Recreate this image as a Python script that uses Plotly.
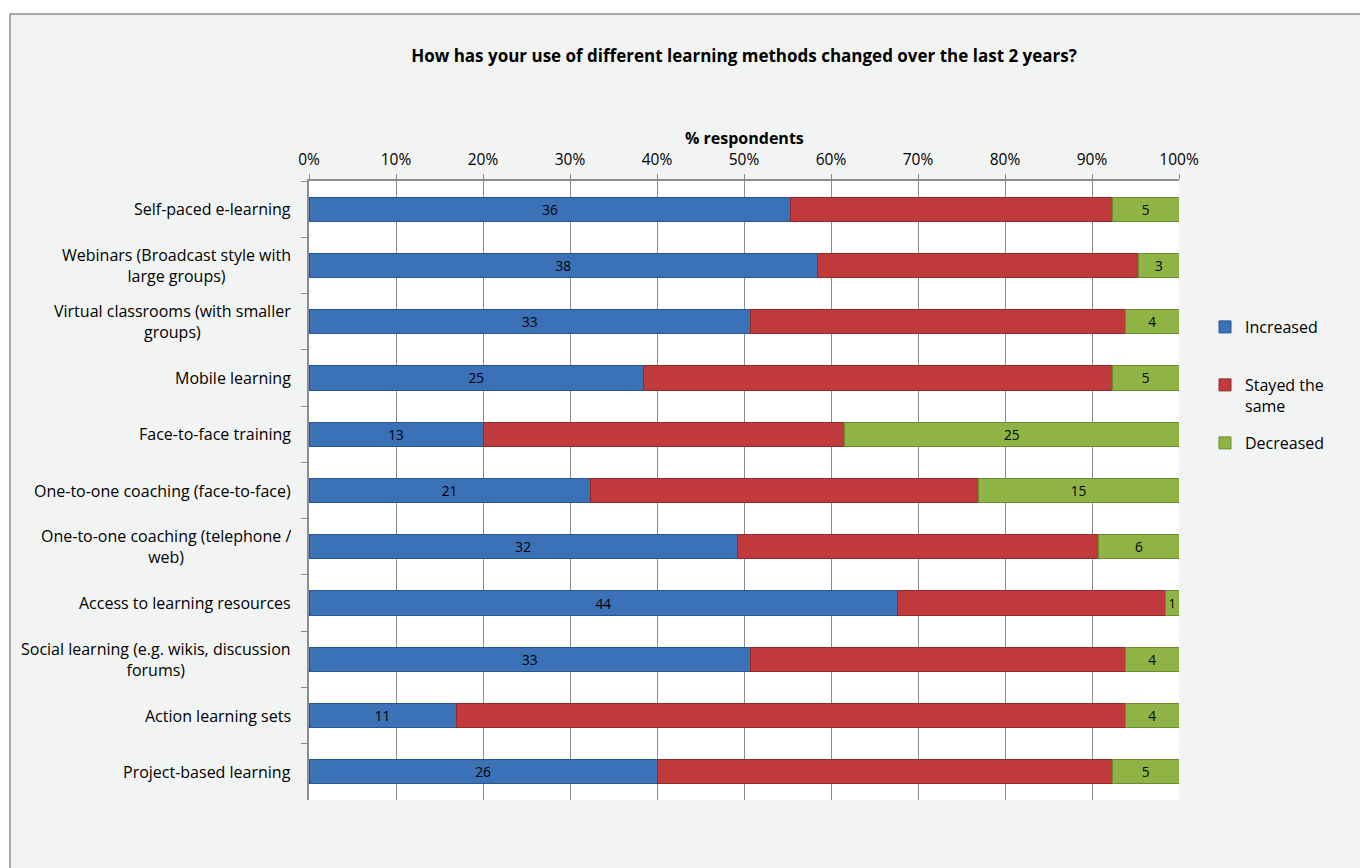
import plotly.graph_objects as go

# Survey: change in use of learning methods (counts of respondents)
categories = [
    "Self-paced e-learning",
    "Webinars (Broadcast style with<br>large groups)",
    "Virtual classrooms (with smaller<br>groups)",
    "Mobile learning",
    "Face-to-face training",
    "One-to-one coaching (face-to-face)",
    "One-to-one coaching (telephone /<br>web)",
    "Access to learning resources",
    "Social learning (e.g. wikis, discussion<br>forums)",
    "Action learning sets",
    "Project-based learning",
]
increased = [36, 38, 33, 25, 13, 21, 32, 44, 33, 11, 26]
stayed_same = [24, 24, 28, 35, 27, 29, 27, 20, 28, 50, 34]
decreased = [5, 3, 4, 5, 25, 15, 6, 1, 4, 4, 5]

pct_ticks = [0, 10, 20, 30, 40, 50, 60, 70, 80, 90, 100]
pct_labels = [f"{v}%" for v in pct_ticks]

series = [
    ("Increased", increased, "#3b71b6", "#2b568e", True),
    ("Stayed the<br>same", stayed_same, "#c03a3d", "#8f2a2c", False),
    ("Decreased", decreased, "#8fb445", "#6c8a30", True),
]

FONT = "Open Sans"
W, H = 1360, 868
L, R, T, B = 309, 181, 181, 68


def px_x(p):
    return (p - L) / (W - L - R)


def px_y(p):
    return (H - B - p) / (H - T - B)


legend_names = ["legend", "legend2", "legend3"]
legend_tops = [310, 368, 426]

fig = go.Figure()
for i, (name, vals, color, edge, show_text) in enumerate(series):
    fig.add_trace(go.Bar(
        y=categories,
        x=vals,
        orientation="h",
        name=name,
        legend=legend_names[i],
        marker=dict(color=color, line=dict(color=edge, width=1)),
        text=[str(v) for v in vals] if show_text else None,
        textposition="inside" if show_text else "none",
        insidetextanchor="middle",
        textangle=0,
        insidetextfont=dict(family=FONT, size=15, color="#000000"),
        hoverinfo="x+y+name",
    ))

# Category labels, centred multi-line text to the left of the axis
for c in categories:
    fig.add_annotation(
        x=0, xref="paper", xshift=-16, xanchor="right",
        y=c, yref="y", yanchor="middle",
        text=c, showarrow=False, align="center",
        font=dict(family=FONT, size=16, color="#000000"),
    )

# Axis title above the percentage ticks
fig.add_annotation(
    x=0.5, xref="paper", xanchor="center",
    y=px_y(138), yref="paper", yanchor="middle",
    text="<b>% respondents</b>", showarrow=False,
    font=dict(family=FONT, size=16, color="#000000"),
)

bg = "#f2f4f3"
# white margin above and left of the chart frame, then the frame itself
fig.add_shape(type="rect", xref="paper", yref="paper",
              x0=px_x(-5), x1=px_x(W + 5), y0=px_y(14), y1=px_y(-5),
              fillcolor="#ffffff", line=dict(width=0), layer="below")
fig.add_shape(type="rect", xref="paper", yref="paper",
              x0=px_x(-5), x1=px_x(10), y0=px_y(H + 5), y1=px_y(-5),
              fillcolor="#ffffff", line=dict(width=0), layer="below")
fig.add_shape(type="rect", xref="paper", yref="paper",
              x0=px_x(10), x1=px_x(W + 10), y0=px_y(14), y1=px_y(H + 10),
              fillcolor="rgba(0,0,0,0)", line=dict(color="#8c8c8c", width=1.5))

legend_common = dict(
    xanchor="left", yanchor="top", valign="top",
    bgcolor="rgba(0,0,0,0)",
    font=dict(family=FONT, size=16, color="#000000"),
    itemclick=False, itemdoubleclick=False,
)

fig.update_layout(
    width=W, height=H,
    margin=dict(l=L, r=R, t=T, b=B, autoexpand=False),
    paper_bgcolor=bg,
    plot_bgcolor="#ffffff",
    barmode="stack",
    barnorm="percent",
    bargap=0.57,
    font=dict(family=FONT, size=15, color="#000000"),
    title=dict(
        text="<b>How has your use of different learning methods changed over the last 2 years?</b>",
        x=0.5, xref="paper", xanchor="center",
        y=1 - 56 / H, yref="container", yanchor="middle",
        font=dict(family=FONT, size=17, color="#000000"),
    ),
    xaxis=dict(
        side="top",
        range=[0, 100],
        tickmode="array",
        tickvals=pct_ticks,
        ticktext=pct_labels,
        showgrid=True, gridcolor="#8c8c8c", gridwidth=1,
        showline=True, linecolor="#8c8c8c", linewidth=2,
        ticks="outside", ticklen=5, tickcolor="#8c8c8c",
        ticklabelstandoff=3,
        tickfont=dict(family=FONT, size=15.5, color="#000000"),
        zeroline=False, fixedrange=True,
    ),
    yaxis=dict(
        autorange="reversed",
        showticklabels=False,
        ticks="outside", ticklen=6, tickcolor="#8c8c8c",
        tickson="boundaries",
        showline=True, linecolor="#8c8c8c", linewidth=2,
        showgrid=False, zeroline=False, fixedrange=True,
    ),
    legend=dict(x=px_x(1205), y=px_y(legend_tops[0]), **legend_common),
    legend2=dict(x=px_x(1205), y=px_y(legend_tops[1]), **legend_common),
    legend3=dict(x=px_x(1205), y=px_y(legend_tops[2]), **legend_common),
    showlegend=True,
)

fig.write_html("out.html")
